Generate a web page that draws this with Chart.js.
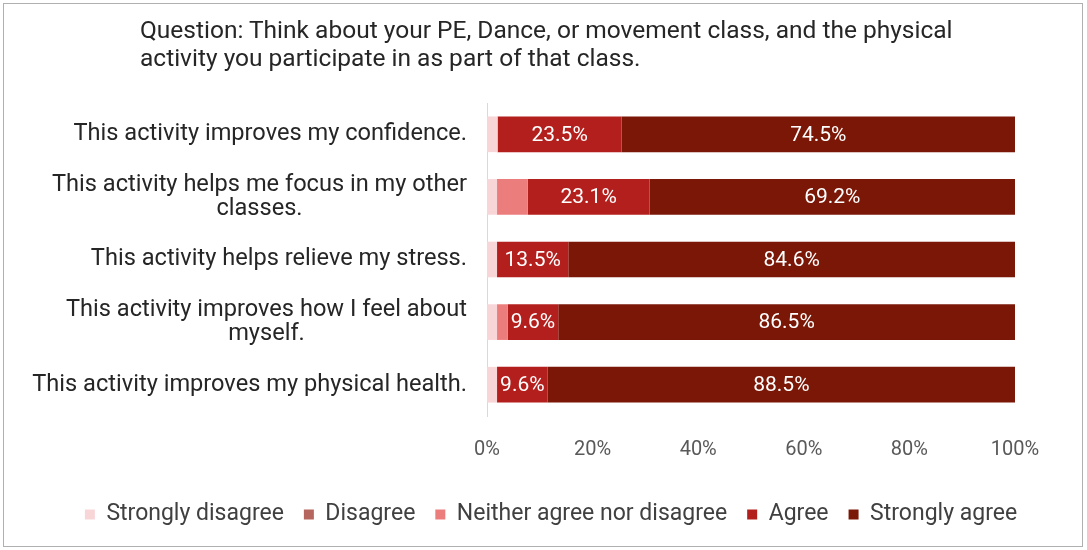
<!DOCTYPE html>
<html>
<head>
<meta charset="utf-8">
<script src="https://cdn.jsdelivr.net/npm/chart.js@4.4.1/dist/chart.umd.min.js"></script>
<style>
    body { margin: 0; background: #fff; }
    #wrap { position: relative; width: 1087px; height: 550px; }
    #frame { position: absolute; left: 3px; top: 3px; width: 1078px; height: 542px; border: 1px solid #b0b0b0; pointer-events: none; }
    #titol { position: absolute; left: 140px; top: 16px; font: 24.5px Roboto, sans-serif; line-height: 28px; color: #262626; white-space: nowrap; }
</style>
</head>
<body>
<div id="wrap">
    <canvas id="grafic" width="1087" height="550"></canvas>
    <div id="frame"></div>
    <div id="titol">Question: Think about your PE, Dance, or movement class, and the physical<br>activity you participate in as part of that class.</div>
</div>
<script>
// Dades llegides del gràfic
const preguntes = [
    "This activity improves my confidence.",
    ["This activity helps me focus in my other", "classes."],
    "This activity helps relieve my stress.",
    ["This activity improves how I feel about", "myself."],
    "This activity improves my physical health."
];
const moltDesacord = [2.0, 1.9, 1.9, 1.9, 1.9];
const desacord = [0, 0, 0, 0, 0];
const neutral = [0, 5.8, 0, 2.0, 0];
const acord = [23.5, 23.1, 13.5, 9.6, 9.6];
const moltAcord = [74.5, 69.2, 84.6, 86.5, 88.5];
const ticksX = [0, 20, 40, 60, 80, 100];

// Etiquetes de l'eix Y (centrades per línia, alineades a la dreta)
const etiquetesY = {
    id: 'etiquetesY',
    afterDraw(chart) {
        const ctx = chart.ctx;
        const y = chart.scales.y;
        const dreta = chart.chartArea.left - 20;
        ctx.save();
        ctx.font = '23.6px Roboto, sans-serif';
        ctx.fillStyle = '#262626';
        ctx.textAlign = 'center';
        ctx.textBaseline = 'middle';
        chart.data.labels.forEach((lab, i) => {
            const linies = Array.isArray(lab) ? lab : [lab];
            const ample = Math.max(...linies.map(l => ctx.measureText(l).width));
            const cx = dreta - ample / 2;
            const y0 = y.getPixelForValue(i) - (linies.length - 1) * 12;
            linies.forEach((l, k) => ctx.fillText(l, cx, y0 + k * 24));
        });
        ctx.restore();
    }
};

// Percentatges dins les barres (només Agree i Strongly agree)
const valorsBarres = {
    id: 'valorsBarres',
    afterDatasetsDraw(chart) {
        const ctx = chart.ctx;
        ctx.save();
        ctx.font = '21px Roboto, sans-serif';
        ctx.fillStyle = '#ffffff';
        ctx.textAlign = 'center';
        ctx.textBaseline = 'middle';
        [3, 4].forEach(d => {
            const meta = chart.getDatasetMeta(d);
            meta.data.forEach((bar, i) => {
                const v = chart.data.datasets[d].data[i];
                if (!v) return;
                ctx.fillText(v.toFixed(1) + '%', (bar.x + bar.base) / 2, bar.y + 1);
            });
        });
        ctx.restore();
    }
};

new Chart(document.getElementById('grafic'), {
    type: 'bar',
    data: {
        labels: preguntes,
        datasets: [
            { label: 'Strongly disagree', data: moltDesacord, backgroundColor: '#f8d6d8' },
            { label: 'Disagree', data: desacord, backgroundColor: '#b5665f' },
            { label: 'Neither agree nor disagree', data: neutral, backgroundColor: '#ec7d7d' },
            { label: 'Agree', data: acord, backgroundColor: '#b31f1d' },
            { label: 'Strongly agree', data: moltAcord, backgroundColor: '#7a1707' }
        ]
    },
    options: {
        indexAxis: 'y',
        responsive: false,
        animation: false,
        barPercentage: 0.57,
        categoryPercentage: 1,
        layout: { padding: { top: 103, left: 20, right: 5, bottom: 14 } },
        scales: {
            x: {
                stacked: true,
                min: 0,
                max: 100,
                afterBuildTicks: s => { s.ticks = ticksX.map(v => ({ value: v })); },
                ticks: { callback: v => v + '%', font: { family: 'Roboto', size: 20 }, color: '#595959', padding: 22 },
                grid: { display: false, drawTicks: false },
                border: { display: false },
                afterFit: s => { s.height = 67; }
            },
            y: {
                stacked: true,
                ticks: { display: false },
                grid: { display: false, drawTicks: false },
                border: { display: true, color: '#d9d9d9' },
                afterFit: s => { s.width = 467; }
            },
            marge: {
                type: 'linear',
                position: 'right',
                ticks: { display: false },
                grid: { display: false, drawTicks: false },
                border: { display: false },
                afterFit: s => { s.width = 67; }
            }
        },
        plugins: {
            legend: {
                position: 'bottom',
                labels: { boxWidth: 10, boxHeight: 10, padding: 20, color: '#404040', font: { family: 'Roboto', size: 23 } }
            },
            tooltip: { enabled: false }
        }
    },
    plugins: [etiquetesY, valorsBarres]
});
</script>
</body>
</html>
